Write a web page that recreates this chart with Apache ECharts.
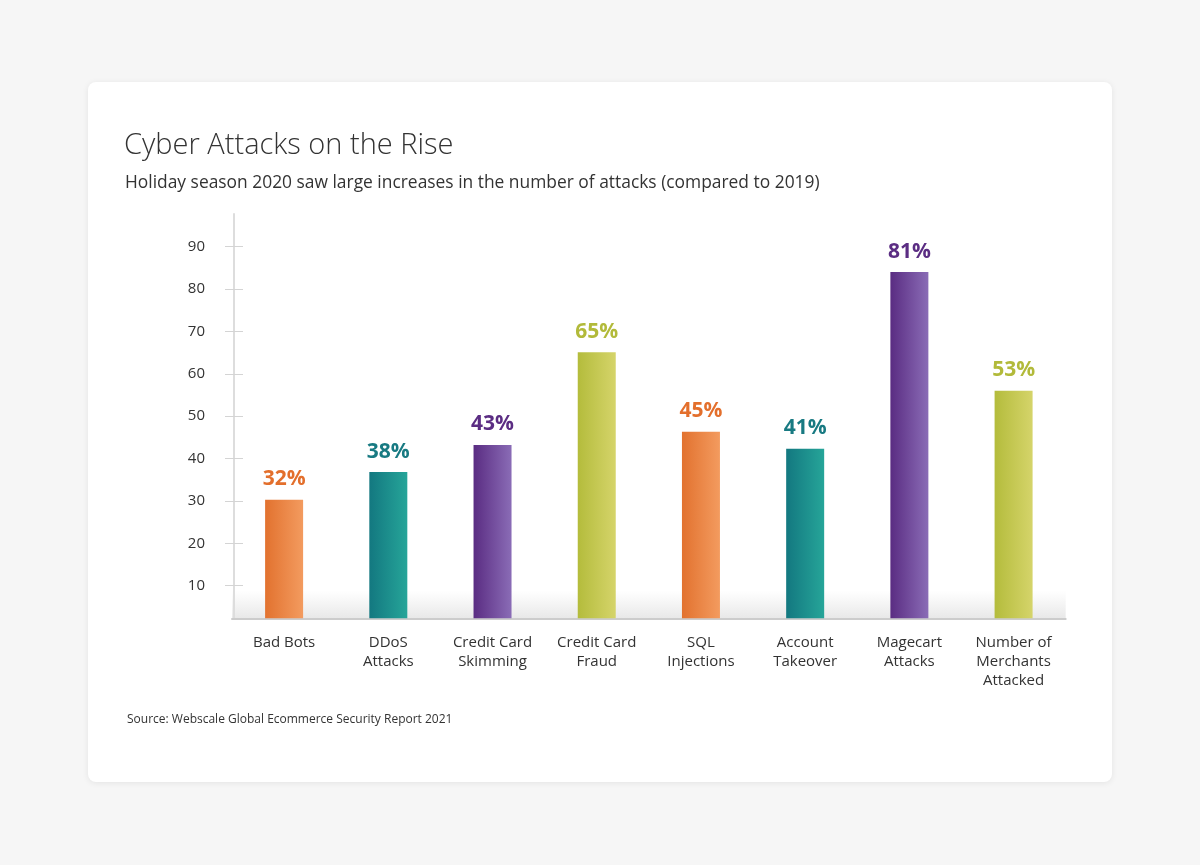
<!DOCTYPE html>
<html>
<head>
<meta charset="utf-8">
<script src="https://cdn.jsdelivr.net/npm/echarts@6/dist/echarts.min.js"></script>
<style>
  html, body { margin: 0; padding: 0; width: 1200px; height: 865px; background: #f6f6f6; overflow: hidden; }
  #card { position: absolute; left: 88px; top: 82px; width: 1024px; height: 700px; background: #ffffff; border-radius: 8px; box-shadow: 0 1px 6px rgba(0,0,0,0.08); }
  #chart { position: absolute; left: 0; top: 0; width: 1200px; height: 865px; }
</style>
</head>
<body>
<div id="card"></div>
<div id="chart"></div>
<script>
const categories = ['Bad Bots', 'DDoS\nAttacks', 'Credit Card\nSkimming', 'Credit Card\nFraud', 'SQL\nInjections', 'Account\nTakeover', 'Magecart\nAttacks', 'Number of\nMerchants\nAttacked'];
const barValues = [30.3, 36.8, 43.2, 65.1, 46.3, 42.3, 84.0, 56.0];
const barLabels = ['32%', '38%', '43%', '65%', '45%', '41%', '81%', '53%'];
const yTickValues = [10, 20, 30, 40, 50, 60, 70, 80, 90];

const palette = {
  orange: { from: '#e2722f', to: '#f39b5f', text: '#e36f2c' },
  teal:   { from: '#137880', to: '#26a599', text: '#187a82' },
  purple: { from: '#5a2c82', to: '#8a6cb6', text: '#5b2d83' },
  green:  { from: '#b4bc3c', to: '#d5d46a', text: '#b2ba3a' }
};
const barColors = ['orange', 'teal', 'purple', 'green', 'orange', 'teal', 'purple', 'green'];

const FONT = '"Open Sans", "Noto Sans", sans-serif';

const chart = echarts.init(document.getElementById('chart'), null, { renderer: 'canvas' });

const data = barValues.map((v, i) => {
  const c = palette[barColors[i]];
  return {
    value: v,
    itemStyle: {
      color: new echarts.graphic.LinearGradient(0, 0, 1, 0, [
        { offset: 0, color: c.from },
        { offset: 1, color: c.to }
      ])
    },
    label: { color: c.text }
  };
});

chart.setOption({
  backgroundColor: 'transparent',
  animation: false,
  title: [
    {
      text: 'Cyber Attacks on the Rise',
      left: 124, top: 131, padding: 0,
      textStyle: { fontFamily: FONT, fontSize: 29, fontWeight: 300, color: '#333333' }
    },
    {
      text: 'Holiday season 2020 saw large increases in the number of attacks (compared to 2019)',
      left: 125, top: 175, padding: 0,
      textStyle: { fontFamily: FONT, fontSize: 17.4, fontWeight: 400, color: '#333333' }
    },
    {
      text: 'Source: Webscale Global Ecommerce Security Report 2021',
      left: 127, top: 714, padding: 0,
      textStyle: { fontFamily: FONT, fontSize: 12, fontWeight: 400, color: '#333333' }
    }
  ],
  grid: { left: 232, right: 134.3, top: 214, bottom: 246.7, containLabel: false },
  xAxis: {
    type: 'category',
    data: categories,
    axisLine: { show: true, lineStyle: { color: '#cccccc', width: 2 } },
    axisTick: { show: false },
    axisLabel: { fontFamily: FONT, fontSize: 15, color: '#333333', lineHeight: 19, margin: 15, interval: 0 }
  },
  yAxis: [
    {
      type: 'value',
      min: 2.3, max: 97.7,
      offset: -2,
      axisLine: { show: true, lineStyle: { color: '#dddddd', width: 2 } },
      axisTick: { show: true, length: 9, customValues: yTickValues, lineStyle: { color: '#d4d4d4', width: 1 } },
      axisLabel: { customValues: yTickValues, fontFamily: FONT, fontSize: 15, color: '#333333', margin: 29 },
      splitLine: { show: false }
    },
    {
      type: 'value',
      position: 'left',
      min: 2.3, max: 97.7,
      offset: -2,
      axisLine: { show: false },
      axisTick: { show: true, inside: true, length: 9, customValues: yTickValues, lineStyle: { color: '#d4d4d4', width: 1 } },
      axisLabel: { show: false },
      splitLine: { show: false }
    }
  ],
  series: [
    {
      type: 'bar',
      yAxisIndex: 0,
      barWidth: 38,
      data: data,
      label: {
        show: true,
        position: 'top',
        distance: 10,
        fontFamily: FONT,
        fontSize: 21,
        fontWeight: 'bold',
        formatter: (p) => barLabels[p.dataIndex]
      },
      markArea: {
        silent: true,
        z: -1,
        itemStyle: {
          color: new echarts.graphic.LinearGradient(0, 0, 0, 1, [
            { offset: 0, color: 'rgba(235,235,235,0)' },
            { offset: 1, color: 'rgba(232,232,232,1)' }
          ])
        },
        data: [[{ yAxis: 9 }, { yAxis: 2.3 }]]
      },
      z: 3
    }
  ]
});
</script>
</body>
</html>
